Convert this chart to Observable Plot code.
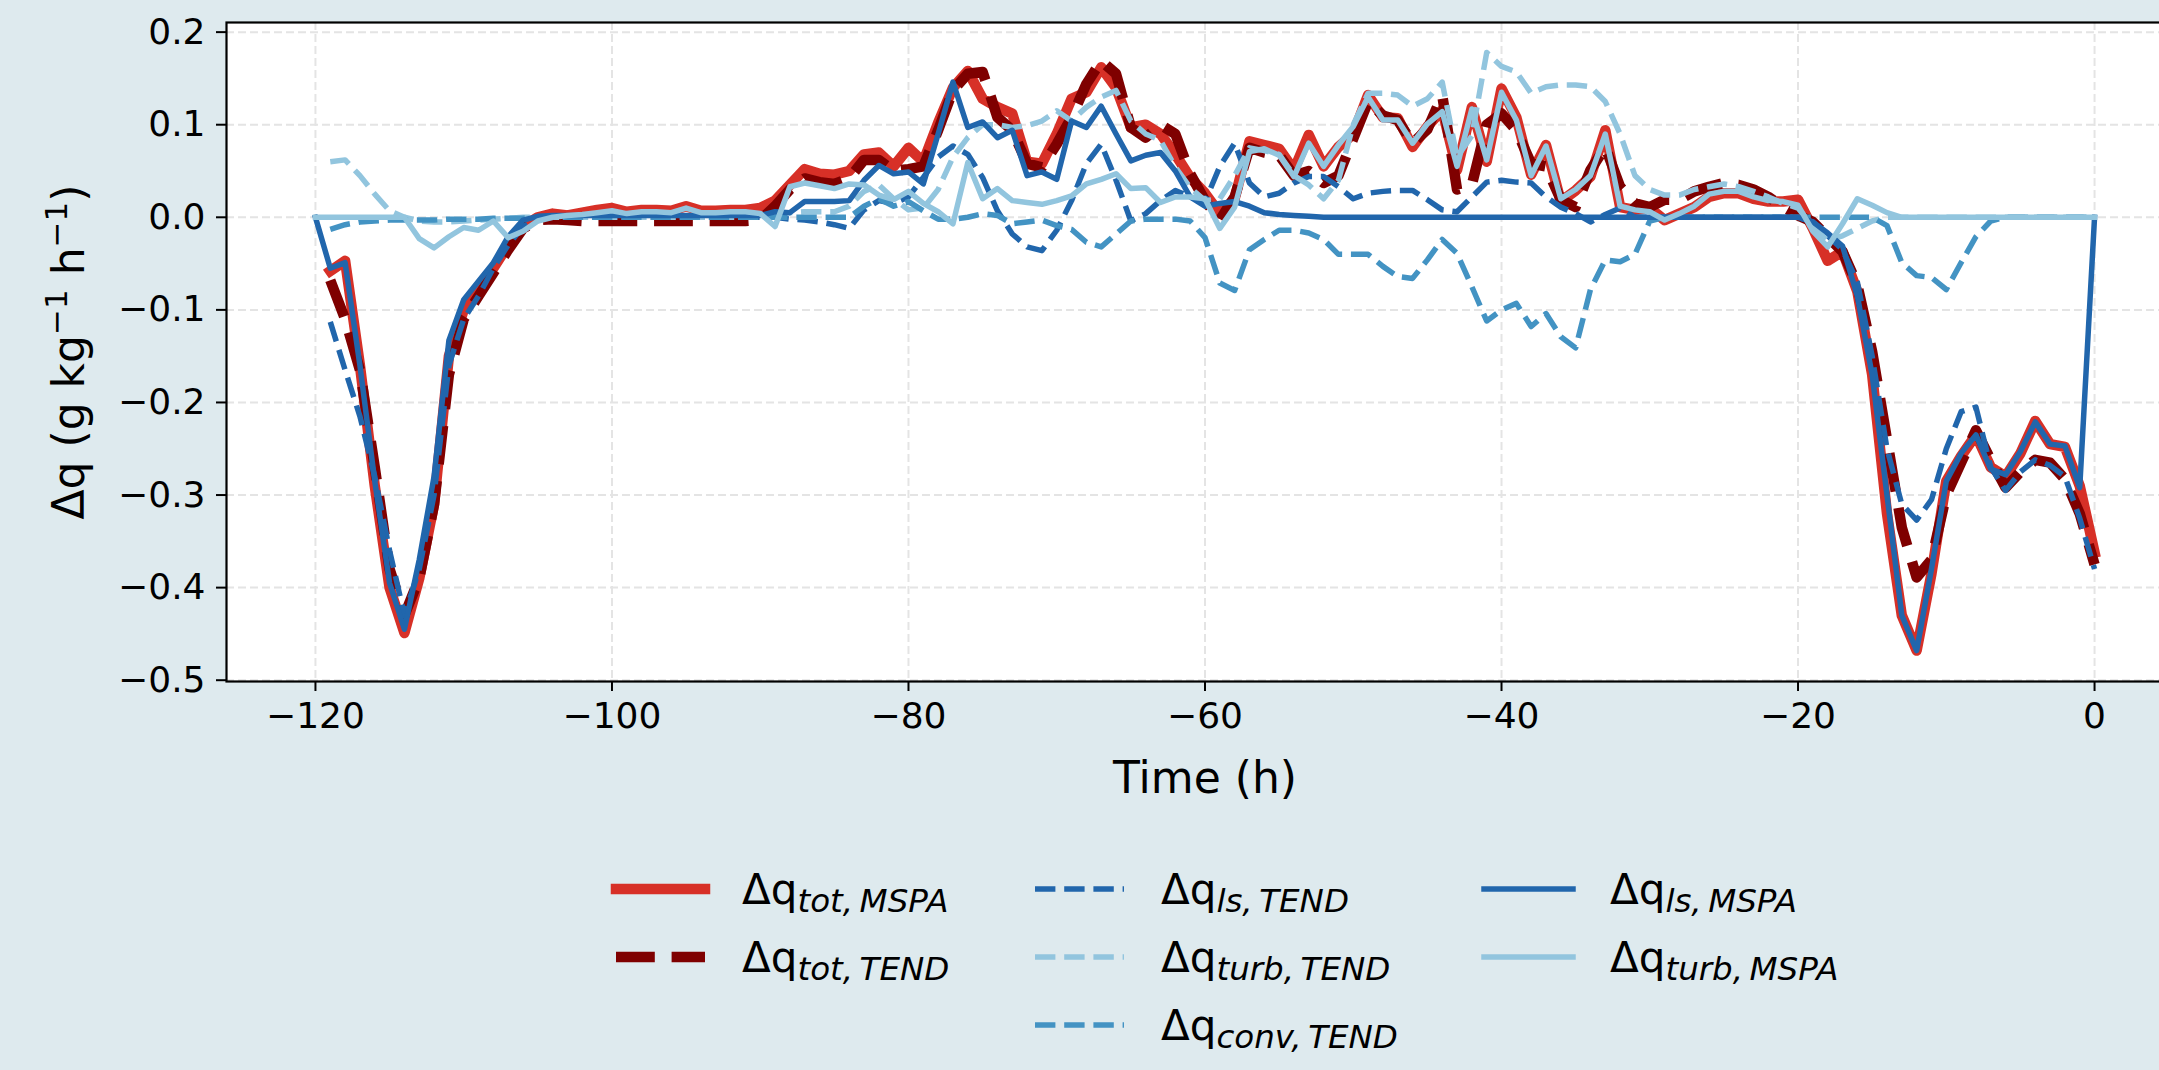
<!DOCTYPE html>
<html>
<head>
<meta charset="utf-8">
<script src="https://cdn.jsdelivr.net/npm/d3@7"></script>
<script src="https://cdn.jsdelivr.net/npm/@observablehq/plot@0.6"></script>
<style>
  html, body { margin: 0; padding: 0; background: #deeaee; overflow: hidden; }
  #wrap { position: relative; width: 2159px; height: 1070px; overflow: hidden; background: #deeaee; font-family: "DejaVu Sans", sans-serif; }
  #chart { position: absolute; left: 0; top: 0; width: 2200px; }
  #chart svg { max-width: none !important; }
  #legend { position: absolute; left: 0; top: 0; }
</style>
</head>
<body>
<div id="wrap"><div id="chart"></div><svg id="legend" width="2159" height="1070"></svg></div>
<script>
// ---- data (hourly, -120 .. 0 h) ----
const hours = d3.range(-120, 1);
const xTicks = [-120, -100, -80, -60, -40, -20, 0];
const yTicks = [-0.5, -0.4, -0.3, -0.2, -0.1, 0.0, 0.1, 0.2];
const xLabel = "Time (h)";
const yLabelParts = ["Δq (g kg", "\u22121", " h", "\u22121", ")"];
const yLabel = yLabelParts.join("");

const totMSPA = [
  null, -0.058, -0.047, -0.16, -0.29, -0.40, -0.449, -0.39, -0.31, -0.15,
  -0.10, -0.08, -0.055, -0.03, -0.01, 0.0, 0.004, 0.002, 0.005, 0.008,
  0.01, 0.006, 0.008, 0.008, 0.007, 0.012, 0.007, 0.007, 0.008, 0.008,
  0.01, 0.018, 0.035, 0.052, 0.047, 0.046, 0.05, 0.068, 0.07, 0.055,
  0.075, 0.06, 0.102, 0.14, 0.158, 0.128, 0.119, 0.112, 0.06, 0.058,
  0.09, 0.128, 0.135, 0.162, 0.14, 0.097, 0.1, 0.09, 0.068, 0.043,
  0.026, 0.004, 0.02, 0.082, 0.078, 0.074, 0.051, 0.089, 0.055, 0.076,
  0.09, 0.132, 0.108, 0.107, 0.076, 0.098, 0.116, 0.051, 0.119, 0.06,
  0.139, 0.108, 0.046, 0.078, 0.017, 0.029, 0.044, 0.094, 0.011, 0.008,
  0.01, -0.003, 0.004, 0.011, 0.022, 0.026, 0.026, 0.02, 0.017, 0.017,
  0.019, -0.012, -0.047, -0.037, -0.08, -0.17, -0.32, -0.43, -0.468, -0.385,
  -0.285, -0.258, -0.235, -0.27, -0.28, -0.255, -0.22, -0.245, -0.248, -0.29,
  -0.362
];
const totTEND = [
  null, -0.068, -0.11, -0.165, -0.27, -0.38, -0.43, -0.39, -0.31, -0.17,
  -0.11, -0.085, -0.06, -0.035, -0.012, -0.003, -0.002, -0.003, -0.004, -0.004,
  -0.004, -0.004, -0.004, -0.004, -0.004, -0.004, -0.004, -0.004, -0.004, -0.004,
  -0.003, 0.012, 0.03, 0.042, 0.038, 0.036, 0.042, 0.062, 0.062, 0.05,
  0.052, 0.055, 0.094, 0.137, 0.155, 0.157, 0.108, 0.094, 0.058, 0.054,
  0.079, 0.108, 0.144, 0.169, 0.155, 0.097, 0.086, 0.1, 0.09, 0.047,
  0.018, -0.003, 0.022, 0.075, 0.07, 0.067, 0.045, 0.05, 0.037, 0.045,
  0.085, 0.125, 0.11, 0.105, 0.08, 0.095, 0.132, 0.03, 0.035, 0.1,
  0.112, 0.094, 0.058, 0.055, 0.019, 0.011, 0.051, 0.076, 0.033, 0.015,
  0.011, 0.019, 0.019, 0.028, 0.033, 0.037, 0.035, 0.03, 0.022, 0.011,
  0.002, -0.005, -0.021, -0.037, -0.073, -0.145, -0.24, -0.335, -0.389, -0.37,
  -0.3, -0.265, -0.23, -0.262, -0.292, -0.275, -0.262, -0.265, -0.283, -0.32,
  -0.375
];
const lsTEND = [
  null, -0.113, -0.165, -0.215, -0.28, -0.36, -0.43, -0.38, -0.30, -0.16,
  -0.11, -0.085, -0.055, -0.03, -0.01, -0.002, 0, 0, 0, 0,
  0, 0, 0, 0, 0, 0, 0, 0, 0, 0,
  0, 0, -0.002, -0.003, -0.005, -0.008, -0.012, 0.008, 0.018, 0.015,
  0.022, 0.043, 0.065, 0.077, 0.068, 0.043, 0.007, -0.018, -0.032, -0.036,
  -0.014, 0.018, 0.058, 0.079, 0.04, -0.004, 0.004, 0.018, 0.029, 0.022,
  0.017, 0.055, 0.08, 0.037, 0.022, 0.026, 0.037, 0.044, 0.044, 0.033,
  0.02, 0.026, 0.028, 0.029, 0.029, 0.019, 0.008, 0.006, 0.022, 0.038,
  0.04, 0.038, 0.037, 0.022, 0.011, 0.004, -0.005, 0.003, 0.01, 0.0,
  0, 0, 0, 0, 0, 0, 0, 0, 0, 0,
  0, -0.005, -0.02, -0.035, -0.07, -0.15, -0.25, -0.31, -0.327, -0.305,
  -0.25, -0.21, -0.205, -0.27, -0.295, -0.275, -0.262, -0.268, -0.28, -0.325,
  -0.38
];
const turbTEND = [
  null, 0.06, 0.062, 0.045, 0.025, 0.007, 0.0, -0.004, -0.005, -0.005,
  -0.004, -0.003, -0.002, -0.001, 0, 0, 0, 0, 0, 0,
  0, 0, 0, 0, 0, 0, 0, 0, 0, 0,
  0.003, 0.005, 0.005, 0.006, 0.006, 0.006, 0.012, 0.028, 0.035, 0.02,
  0.008, 0.01, 0.03, 0.065, 0.086, 0.1, 0.1, 0.097, 0.099, 0.104,
  0.115, 0.104, 0.119, 0.13, 0.137, 0.104, 0.09, 0.083, 0.054, 0.032,
  0.018, 0.02, 0.045, 0.075, 0.072, 0.068, 0.045, 0.035, 0.02, 0.04,
  0.1, 0.134, 0.134, 0.132, 0.12, 0.128, 0.146, 0.065, 0.088, 0.178,
  0.163, 0.157, 0.134, 0.141, 0.143, 0.143, 0.141, 0.125, 0.09, 0.045,
  0.03, 0.024, 0.024, 0.03, 0.033, 0.036, 0.033, 0.028, 0.022, 0.015,
  0.01, -0.01, -0.025, -0.02, -0.012, -0.004, 0, 0, 0, 0,
  0, 0, 0, 0, 0, 0, 0, 0, 0, 0,
  0
];
const convTEND = [
  null, -0.013, -0.008, -0.005, -0.004, -0.003, -0.003, -0.003, -0.003, -0.002,
  -0.002, -0.002, -0.001, -0.001, -0.001, 0, 0, 0, 0, 0,
  0, 0, 0, 0, 0, 0, 0, 0, 0, 0,
  0, 0, 0, 0, 0, 0, 0, 0.012, 0.02, 0.012,
  0.017, 0.007, -0.002, -0.002, 0, 0.004, 0.002, -0.007, -0.005, -0.003,
  -0.009, -0.013, -0.027, -0.032, -0.018, -0.004, -0.002, -0.002, -0.002, -0.004,
  -0.022, -0.071, -0.079, -0.035, -0.024, -0.014, -0.014, -0.017, -0.024, -0.04,
  -0.04, -0.04, -0.053, -0.064, -0.066, -0.046, -0.024, -0.039, -0.075, -0.112,
  -0.1, -0.093, -0.118, -0.104, -0.129, -0.141, -0.078, -0.046, -0.048, -0.04,
  -0.004, 0, 0, 0, 0, 0, 0, 0, 0, 0,
  0, 0, 0, 0, 0, 0, -0.009, -0.049, -0.063, -0.065,
  -0.078, -0.049, -0.021, -0.004, 0, 0, 0, 0, 0, 0,
  0
];
const lsMSPA = [
  0, -0.055, -0.049, -0.16, -0.285, -0.395, -0.445, -0.37, -0.28, -0.133,
  -0.089, -0.069, -0.049, -0.021, -0.003, 0.001, 0.002, 0.002, 0.002, 0.002,
  0.002, 0.002, 0.002, 0.002, 0.002, 0.002, 0.002, 0.002, 0.002, 0.002,
  0.002, 0.006, 0.005, 0.017, 0.017, 0.017, 0.018, 0.04, 0.056, 0.047,
  0.049, 0.036, 0.09, 0.146, 0.097, 0.103, 0.086, 0.094, 0.045, 0.049,
  0.041, 0.104, 0.097, 0.12, 0.09, 0.061, 0.067, 0.07, 0.05, 0.022,
  0.012, 0.015, 0.017, 0.012, 0.005, 0.003, 0.002, 0.001, 0, 0,
  0, 0, 0, 0, 0, 0, 0, 0, 0, 0,
  0, 0, 0, 0, 0, 0, 0, 0, 0, 0,
  0, 0, 0, 0, 0, 0, 0, 0, 0, 0,
  0, -0.005, -0.017, -0.031, -0.085, -0.17, -0.30, -0.43, -0.468, -0.38,
  -0.285, -0.255, -0.235, -0.272, -0.278, -0.253, -0.221, -0.245, -0.247, -0.292,
  0
];
const turbMSPA = [
  0, 0, 0, 0, 0, 0, 0, -0.023, -0.033, -0.021,
  -0.011, -0.014, -0.004, -0.022, -0.015, -0.004, 0.0, 0.002, 0.003, 0.005,
  0.007, 0.004, 0.006, 0.006, 0.005, 0.01, 0.005, 0.005, 0.006, 0.006,
  0.004, -0.01, 0.033, 0.037, 0.034, 0.031, 0.036, 0.035, 0.024, 0.019,
  0.028, 0.015, 0.006, -0.007, 0.059, 0.02, 0.031, 0.018, 0.016, 0.014,
  0.018, 0.023, 0.036, 0.041, 0.047, 0.031, 0.032, 0.016, 0.022, 0.022,
  0.02, -0.012, 0.011, 0.071, 0.074, 0.067, 0.044, 0.08, 0.055, 0.078,
  0.098, 0.13, 0.105, 0.105, 0.08, 0.101, 0.114, 0.055, 0.117, 0.062,
  0.135, 0.105, 0.045, 0.077, 0.02, 0.03, 0.045, 0.09, 0.012, 0.008,
  0.006, -0.003, 0.004, 0.012, 0.025, 0.028, 0.028, 0.022, 0.018, 0.017,
  0.013, -0.015, -0.032, -0.007, 0.02, 0.013, 0.005, 0, 0, 0,
  0, 0, 0, 0, 0, 0, 0, 0, 0, 0,
  0
];

// ---- series styling (drawn in legend order) ----
const series = [
  {sub: "tot,\u2009MSPA",  values: totMSPA,  color: "#d73027", width: 10.5, dash: null,        col: 0, row: 0},
  {sub: "tot,\u2009TEND",  values: totTEND,  color: "#7f0000", width: 10.5, dash: [38.8, 16.8], col: 0, row: 1},
  {sub: "ls,\u2009TEND",   values: lsTEND,   color: "#2166ac", width: 5.5,  dash: [20.4, 8.8],  col: 1, row: 0},
  {sub: "turb,\u2009TEND", values: turbTEND, color: "#92c5de", width: 5.5,  dash: [20.4, 8.8],  col: 1, row: 1},
  {sub: "conv,\u2009TEND", values: convTEND, color: "#4393c3", width: 5.5,  dash: [20.4, 8.8],  col: 1, row: 2},
  {sub: "ls,\u2009MSPA",   values: lsMSPA,   color: "#2166ac", width: 5.5,  dash: null,        col: 2, row: 0},
  {sub: "turb,\u2009MSPA", values: turbMSPA, color: "#92c5de", width: 5.5,  dash: null,        col: 2, row: 1}
];

const gridStyle = {stroke: "#e4e4e4", strokeOpacity: 1, strokeWidth: 2, strokeDasharray: "8,4"};
const fmtX = d => d < 0 ? "\u2212" + Math.abs(d) : String(d);

const lineMarks = series.map(s => Plot.line(
  hours.map((t, i) => ({t, v: s.values[i]})),
  {x: "t", y: "v", stroke: s.color, strokeWidth: s.width,
   strokeDasharray: s.dash ? s.dash.join(",") : null,
   strokeLinecap: s.dash ? "butt" : "square", strokeLinejoin: "round"}
));

const chart = Plot.plot({
  width: 2200,
  height: 830,
  marginLeft: 226,
  marginRight: 17,
  marginTop: 22,
  marginBottom: 149,
  style: {background: "transparent", fontFamily: "DejaVu Sans", color: "black", overflow: "visible", maxWidth: "none"},
  x: {domain: [-126, 6]},
  y: {domain: [-0.5014, 0.2104]},
  marks: [
    Plot.frame({fill: "white", stroke: null}),
    Plot.gridX(xTicks, gridStyle),
    Plot.gridY(yTicks, gridStyle),
    ...lineMarks,
    Plot.frame({stroke: "black", strokeWidth: 2.2}),
    Plot.axisX(xTicks, {tickSize: 10, tickPadding: 11, fontSize: 36, tickFormat: fmtX, label: null, strokeWidth: 2}),
    Plot.axisY(yTicks, {tickSize: 10, tickPadding: 11, fontSize: 36, tickFormat: d3.format(".1f"), label: null, strokeWidth: 2}),
    Plot.text([xLabel], {text: d => d, frameAnchor: "bottom", textAnchor: "middle", lineAnchor: "middle", dy: 97, fontSize: 44}),
    Plot.text([yLabel], {text: d => d, frameAnchor: "left", textAnchor: "middle", lineAnchor: "middle", dx: -157, rotate: -90, fontSize: 44})
  ]
});
chart.style.maxWidth = "none";
document.getElementById("chart").appendChild(chart);

// superscripts in the y label (same characters, set as raised tspans)
d3.select(chart).selectAll("text")
  .filter(function () { return this.textContent === yLabel; })
  .each(function () {
    const t = d3.select(this);
    t.text(null);
    yLabelParts.forEach((p, i) => {
      const sp = t.append("tspan").text(p);
      if (i % 2 === 1) sp.attr("font-size", 31).attr("dy", -17);
      else if (i > 0) sp.attr("dy", 17);
    });
  });

// ---- legend (below the plot) ----
const colX = [616, 1035, 1484];
const rowY = [889, 957, 1025];
const handleLen = 89;
const leg = d3.select("#legend");
series.forEach(s => {
  const x0 = colX[s.col], y0 = rowY[s.row];
  leg.append("line")
    .attr("x1", x0).attr("x2", x0 + handleLen).attr("y1", y0).attr("y2", y0)
    .attr("stroke", s.color).attr("stroke-width", s.width)
    .attr("stroke-dasharray", s.dash ? s.dash.join(",") : null)
    .attr("stroke-linecap", s.dash ? "butt" : "square");
  const t = leg.append("text")
    .attr("x", x0 + handleLen + 37).attr("y", y0 + 15)
    .attr("font-family", "DejaVu Sans").attr("font-size", 42).attr("fill", "black");
  t.append("tspan").text("Δq");
  t.append("tspan").attr("font-size", 32.5).attr("font-style", "italic").attr("dy", 8).text(s.sub);
});
</script>
</body>
</html>
